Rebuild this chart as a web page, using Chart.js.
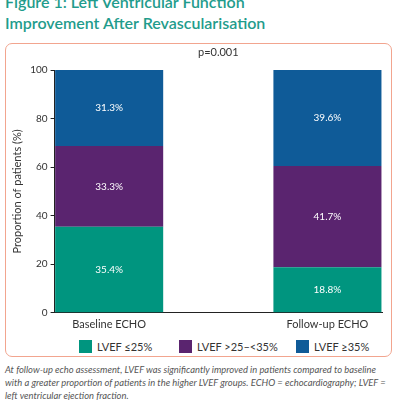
<!DOCTYPE html>
<html>
<head>
<meta charset="utf-8">
<script src="https://cdn.jsdelivr.net/npm/chart.js@4"></script>
<style>
  body { margin: 0; width: 400px; height: 400px; overflow: hidden; background: #fff; font-family: Lato, sans-serif; position: relative; }
  #title { position: absolute; left: 5px; top: -9px; color: #1f9c8c; font-size: 16px; font-weight: 600; line-height: 21px; }
  #box { position: absolute; left: 5px; top: 43px; width: 385px; height: 312px; border: 1.5px solid #f2a58f; border-radius: 7px; }
  #wrap { position: absolute; left: 6px; top: 44px; width: 385px; height: 292px; }
  #legend { position: absolute; top: 340px; left: 0; width: 400px; font-size: 11px; color: #333; }
  #legend span.item { position: absolute; display: flex; align-items: center; }
  #legend span.sw { display: inline-block; width: 13px; height: 13px; margin-right: 5px; }
  #caption { position: absolute; left: 5px; top: 363px; width: 395px; font-size: 9.4px; font-style: italic; color: #555; line-height: 13px; white-space: nowrap; }
</style>
</head>
<body>
<div id="title">Figure 1: Left Ventricular Function<br>Improvement After Revascularisation</div>
<div id="box"></div>
<div id="wrap"><canvas id="bar-chart"></canvas></div>
<div id="legend"></div>
<div id="caption">At follow-up echo assessment, LVEF was significantly improved in patients compared to baseline<br>with a greater proportion of patients in the higher LVEF groups. ECHO = echocardiography; LVEF =<br>left ventricular ejection fraction.</div>
<script>
// values (% of patients)
var categories = ["Baseline ECHO", "Follow-up ECHO"];
var lvefLow = [35.4, 18.8];   // LVEF <=25%
var lvefMid = [33.3, 41.7];   // LVEF >25-<35%
var lvefHigh = [31.3, 39.6];  // LVEF >=35%
var seriesNames = ["LVEF \u226425%", "LVEF >25\u2013<35%", "LVEF \u226535%"];
var seriesColors = ["#00957f", "#5a246f", "#0f5b98"];
var yTicks = [0, 20, 40, 60, 80, 100];
var pValue = "p=0.001";

// empty middle slot keeps the two bars apart like in the figure
var labels = [categories[0], "", categories[1]];
function spread(arr) { return [arr[0], null, arr[1]]; }

var valueLabels = {
  id: 'valueLabels',
  afterDatasetsDraw: function(chart) {
    var ctx = chart.ctx;
    ctx.save();
    ctx.font = '10px Lato';
    ctx.fillStyle = '#fff';
    ctx.textAlign = 'center';
    ctx.textBaseline = 'middle';
    chart.data.datasets.forEach(function(ds, i) {
      chart.getDatasetMeta(i).data.forEach(function(bar, j) {
        if (ds.data[j] == null) return;
        ctx.fillText(ds.data[j].toFixed(1) + '%', bar.x, (bar.y + bar.base) / 2);
      });
    });
    // p value above the plot
    var a = chart.chartArea;
    ctx.fillStyle = '#333';
    ctx.font = '11px Lato';
    ctx.fillText(pValue, (a.left + a.right) / 2, a.top - 18);
    ctx.restore();
  }
};

var ctx = document.getElementById("bar-chart");
var barChart = new Chart(ctx, {
  type: 'bar',
  data: {
    labels: labels,
    datasets: [
      { label: seriesNames[0], data: spread(lvefLow), backgroundColor: seriesColors[0] },
      { label: seriesNames[1], data: spread(lvefMid), backgroundColor: seriesColors[1] },
      { label: seriesNames[2], data: spread(lvefHigh), backgroundColor: seriesColors[2] }
    ]
  },
  options: {
    responsive: true,
    maintainAspectRatio: false,
    animation: false,
    layout: { padding: { top: 26, right: 9, left: 2, bottom: 0 } },
    plugins: { legend: { display: false }, tooltip: { enabled: false } },
    datasets: { bar: { barPercentage: 1, categoryPercentage: 0.99 } },
    scales: {
      x: {
        stacked: true,
        grid: { display: true, drawOnChartArea: false, drawTicks: false },
        border: { display: true, color: '#222', width: 1 },
        ticks: { color: '#333', font: { family: 'Lato', size: 11 }, padding: 5 }
      },
      y: {
        stacked: true,
        min: 0, max: 100,
        afterBuildTicks: function(axis) { axis.ticks = yTicks.map(function(v) { return { value: v }; }); },
        grid: { display: true, drawOnChartArea: false, drawTicks: true, tickLength: 4, color: '#222' },
        border: { display: true, color: '#222', width: 1 },
        ticks: { color: '#333', font: { family: 'Lato', size: 10 }, padding: 3 },
        title: { display: true, text: 'Proportion of patients (%)', color: '#333', font: { family: 'Lato', size: 11 }, padding: 3 }
      }
    }
  },
  plugins: [valueLabels]
});

// legend under the chart
var lx = [79, 179, 296];
var legend = document.getElementById('legend');
seriesNames.forEach(function(name, i) {
  var it = document.createElement('span');
  it.className = 'item';
  it.style.left = lx[i] + 'px';
  it.innerHTML = '<span class="sw" style="background:' + seriesColors[i] + '"></span>' + name;
  legend.appendChild(it);
});
</script>
</body>
</html>
